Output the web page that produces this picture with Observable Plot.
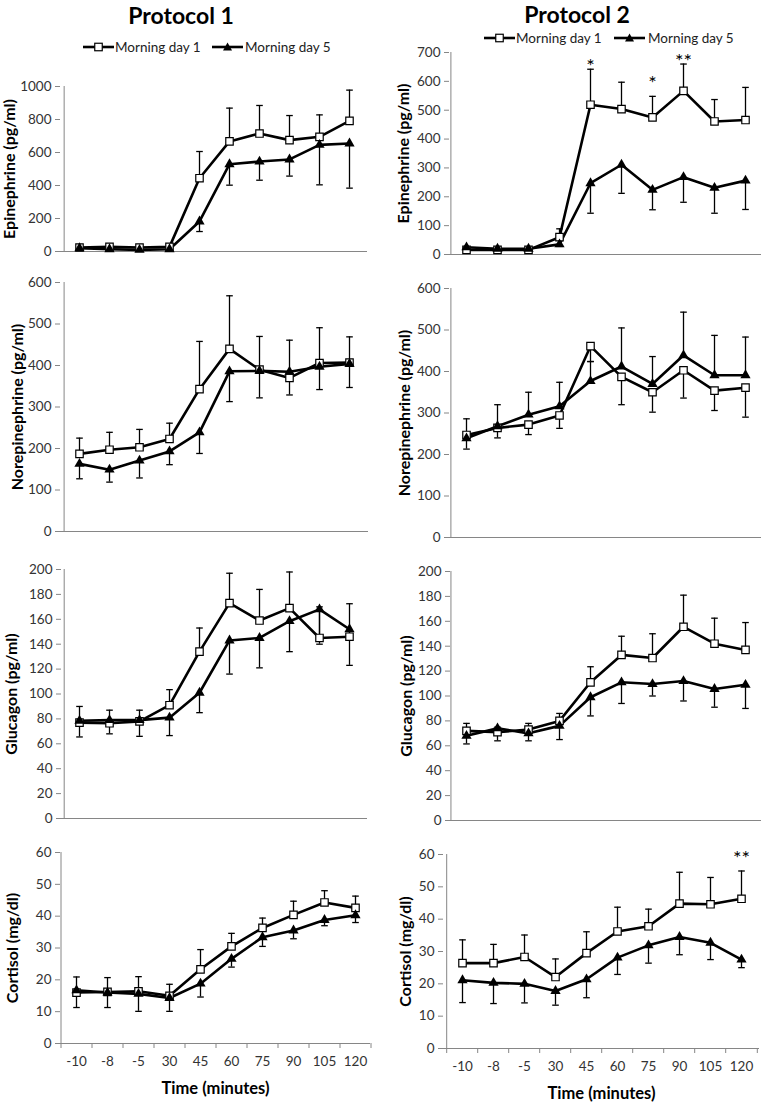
<!DOCTYPE html>
<html>
<head>
<meta charset="utf-8">
<script src="https://cdn.jsdelivr.net/npm/d3@7"></script>
<script src="https://cdn.jsdelivr.net/npm/@observablehq/plot@0.6"></script>
<style>
  body { margin: 0; background: #fff; }
  #root { position: relative; width: 762px; height: 1102px; font-family: Lato, "Open Sans", sans-serif; overflow: hidden; background: #fff; }
  .panel { position: absolute; }
  .title { position: absolute; font-weight: bold; font-size: 23px; line-height: 23px; transform: translateX(-50%); white-space: nowrap; color: #000; }
  .ltext { position: absolute; font-size: 13.5px; line-height: 14px; color: #222; white-space: nowrap; }
  .swatch { position: absolute; }
</style>
</head>
<body>
<div id="root"></div>
<script>
// ---------------- data ----------------
const times = ["-10", "-8", "-5", "30", "45", "60", "75", "90", "105", "120"];
const seriesNames = ["Morning day 1", "Morning day 5"];
const protocolTitles = ["Protocol 1", "Protocol 2"];
const xTitle = "Time (minutes)";

// Epinephrine, protocol 1
const epi1_d1 = [24, 28, 24, 28, 444, 667, 715, 675, 695, 792];
const epi1_d1_hi = [32, 36, 32, 36, 606, 869, 885, 824, 828, 978];
const epi1_d5 = [20, 14, 10, 14, 182, 529, 545, 558, 646, 655];
const epi1_d5_lo = [14, 8, 5, 8, 121, 402, 432, 457, 404, 384];
// Epinephrine, protocol 2
const epi2_d1 = [16, 16, 16, 60, 519, 504, 475, 567, 461, 466];
const epi2_d1_hi = [22, 22, 22, 89, 642, 597, 548, 660, 537, 579];
const epi2_d5 = [25, 20, 20, 35, 247, 311, 224, 268, 231, 256];
const epi2_d5_lo = [19, 14, 14, 28, 143, 212, 155, 181, 143, 156];
const epi2_stars = [{t: "45", v: 671, s: "*"}, {t: "75", v: 614, s: "*"}, {t: "90", v: 689, s: "**"}];
// Norepinephrine, protocol 1
const ne1_d1 = [187, 197, 203, 223, 343, 440, 390, 370, 406, 407];
const ne1_d1_hi = [225, 239, 246, 261, 458, 568, 470, 461, 491, 469];
const ne1_d5 = [163, 149, 171, 193, 239, 386, 387, 385, 397, 404];
const ne1_d5_lo = [127, 119, 129, 161, 188, 313, 322, 329, 342, 347];
// Norepinephrine, protocol 2 (day 1 bars go down, day 5 bars go up)
const ne2_d1 = [247, 264, 272, 294, 461, 387, 350, 403, 354, 361];
const ne2_d1_err = [213, 240, 248, 263, 424, 320, 302, 336, 306, 290];
const ne2_d5 = [239, 268, 296, 316, 377, 412, 370, 439, 391, 391];
const ne2_d5_err = [286, 320, 350, 374, 424, 505, 436, 543, 487, 483];
// Glucagon, protocol 1
const gl1_d1 = [77, 76.5, 78, 91, 134, 173, 159, 169, 145, 146];
const gl1_d1_hi = [90, 87, 87, 103.5, 153, 197, 184, 198, 170, 172.5];
const gl1_d5 = [78.5, 79, 79, 81, 101, 143, 145, 158.5, 168, 152];
const gl1_d5_lo = [65.5, 68, 66, 66.6, 85, 116, 121, 134, 140, 123];
// Glucagon, protocol 2
const gl2_d1 = [72, 71, 73, 80, 111, 133, 130.5, 155.6, 142, 137];
const gl2_d1_hi = [78, 75, 78, 86, 123.5, 148, 150, 181, 162.5, 159];
const gl2_d5 = [68, 74, 70, 76, 99, 111, 109.6, 112, 105.6, 109];
const gl2_d5_lo = [61.5, 64, 64, 65, 84, 94, 100, 96, 91, 90];
// Cortisol, protocol 1
const co1_d1 = [16, 16.2, 16.4, 15, 23.3, 30.5, 36.3, 40.4, 44.3, 42.6];
const co1_d1_hi = [20.9, 20.7, 21, 18.6, 29.5, 34.6, 39.4, 44.7, 48, 46.3];
const co1_d5 = [16.7, 16, 15.6, 14.3, 18.8, 26.6, 33.4, 35.5, 38.8, 40.3];
const co1_d5_lo = [11.3, 11.3, 10.1, 10.1, 14.6, 24, 30.5, 32.9, 37, 38];
// Cortisol, protocol 2
const co2_d1 = [26.4, 26.4, 28.3, 22.1, 29.5, 36.2, 37.8, 44.8, 44.6, 46.3];
const co2_d1_hi = [33.6, 32.2, 35.1, 27.7, 36.1, 43.7, 43.1, 54.5, 52.9, 54.9];
const co2_d5 = [21.1, 20.3, 20, 17.8, 21.4, 28.1, 31.9, 34.5, 32.7, 27.5];
const co2_d5_lo = [14.2, 13.9, 14.1, 13.4, 15.7, 22.9, 26.4, 29, 27.5, 25];
const co2_stars = [{t: "120", v: 60.5, s: "**"}];

// tick labels
const epi1Ticks = [0, 200, 400, 600, 800, 1000];
const epi2Ticks = [0, 100, 200, 300, 400, 500, 600, 700];
const neTicks = [0, 100, 200, 300, 400, 500, 600];
const glTicks = [0, 20, 40, 60, 80, 100, 120, 140, 160, 180, 200];
const coTicks = [0, 10, 20, 30, 40, 50, 60];

const yTitles = ["Epinephrine (pg/ml)", "Norepinephrine (pg/ml)", "Glucagon (pg/ml)", "Cortisol (mg/dl)"];

// ---------------- panels ----------------
const panels = [
  {d1: epi1_d1, e1: epi1_d1_hi, d5: epi1_d5, e5: epi1_d5_lo, ymax: 1000, ticks: epi1Ticks, ytitle: yTitles[0]},
  {d1: epi2_d1, e1: epi2_d1_hi, d5: epi2_d5, e5: epi2_d5_lo, ymax: 700, ticks: epi2Ticks, ytitle: yTitles[0], stars: epi2_stars},
  {d1: ne1_d1, e1: ne1_d1_hi, d5: ne1_d5, e5: ne1_d5_lo, ymax: 600, ticks: neTicks, ytitle: yTitles[1]},
  {d1: ne2_d1, e1: ne2_d1_err, d5: ne2_d5, e5: ne2_d5_err, ymax: 600, ticks: neTicks, ytitle: yTitles[1]},
  {d1: gl1_d1, e1: gl1_d1_hi, d5: gl1_d5, e5: gl1_d5_lo, ymax: 200, ticks: glTicks, ytitle: yTitles[2]},
  {d1: gl2_d1, e1: gl2_d1_hi, d5: gl2_d5, e5: gl2_d5_lo, ymax: 200, ticks: glTicks, ytitle: yTitles[2]},
  {d1: co1_d1, e1: co1_d1_hi, d5: co1_d5, e5: co1_d5_lo, ymax: 60, ticks: coTicks, ytitle: yTitles[3], xlab: true},
  {d1: co2_d1, e1: co2_d1_hi, d5: co2_d5, e5: co2_d5_lo, ymax: 60, ticks: coTicks, ytitle: yTitles[3], xlab: true, stars: co2_stars}
];

// layout (pixel geometry of each plot frame)
const layout = [
  {col: 0, top: 86, bottom: 251, x0: 60, x1: 367, tdx: -51},
  {col: 1, top: 52, bottom: 254, x0: 449, x1: 761, tdx: -46},
  {col: 0, top: 282, bottom: 531, x0: 60, x1: 368, tdx: -43},
  {col: 1, top: 288, bottom: 537, x0: 449, x1: 761, tdx: -45},
  {col: 0, top: 569, bottom: 818, x0: 61, x1: 367, tdx: -50},
  {col: 1, top: 571, bottom: 820, x0: 450, x1: 761, tdx: -44},
  {col: 0, top: 852, bottom: 1043, x0: 60, x1: 370, tdx: -48},
  {col: 1, top: 854, bottom: 1048, x0: 443, x1: 759, tdx: -38}
];

const root = document.getElementById("root");
const AXIS = "#868686";
const capSymbol = {draw(ctx) { ctx.moveTo(-3.3, 0); ctx.lineTo(3.3, 0); }};

panels.forEach((p, k) => {
  const L = layout[k];
  const svgLeft = L.col ? 381 : 0;
  const mt = 12;
  const mb = p.xlab ? 1102 - L.bottom : 8;
  const ml = L.x0 - svgLeft;
  const mr = svgLeft + 381 - L.x1;
  const fh = L.bottom - L.top;
  const step = (L.x1 - L.x0) / times.length;
  const rows = times.map((t, i) => ({t, d1: p.d1[i], e1: p.e1[i], d5: p.d5[i], e5: p.e5[i]}));

  const marks = [
    Plot.ruleY([0], {stroke: AXIS, strokeWidth: 1}),
    Plot.ruleX([times[0]], {dx: -step / 2, stroke: AXIS, strokeWidth: 1}),
    Plot.axisY({ticks: p.ticks, tickSize: 5, tickPadding: 4, tickFormat: d3.format("d"),
      stroke: AXIS, fill: "#333", fontSize: 13.5, label: null}),
    Plot.line(rows, {x: "t", y: "d1", stroke: "black", strokeWidth: 2.6}),
    Plot.line(rows, {x: "t", y: "d5", stroke: "black", strokeWidth: 2.6}),
    Plot.ruleX(rows, {x: "t", y1: "d1", y2: "e1", stroke: "black", strokeWidth: 1.3}),
    Plot.ruleX(rows, {x: "t", y1: "d5", y2: "e5", stroke: "black", strokeWidth: 1.3}),
    Plot.dot(rows, {x: "t", y: "e1", symbol: capSymbol, fill: "none", stroke: "black", strokeWidth: 1.3}),
    Plot.dot(rows, {x: "t", y: "e5", symbol: capSymbol, fill: "none", stroke: "black", strokeWidth: 1.3}),
    Plot.dot(rows, {x: "t", y: "d1", symbol: "square", r: 4.2, fill: "white", stroke: "black", strokeWidth: 1.2}),
    Plot.dot(rows, {x: "t", y: "d5", symbol: "triangle", r: 3.8, fill: "black", stroke: "none"}),
    Plot.text([p.ytitle], {frameAnchor: "left", rotate: -90, dx: L.tdx, fontWeight: "bold",
      fontSize: 16, fill: "black", textAnchor: "middle", lineAnchor: "middle"})
  ];
  if (p.xlab) {
    marks.push(
      Plot.axisX({tickSize: 0, tickPadding: 13, fontSize: 13.5, fill: "#333", label: null}),
      Plot.axisX({ticks: times, tickSize: 5, tickFormat: () => "", stroke: AXIS, dx: -step / 2, label: null}),
      Plot.axisX({ticks: [times[times.length - 1]], tickSize: 5, tickFormat: () => "", stroke: AXIS, dx: step / 2, label: null}),
      Plot.text([xTitle], {frameAnchor: "bottom", dy: 45, fontWeight: "bold", fontSize: 16.5, fill: "black", textAnchor: "middle", lineAnchor: "middle"})
    );
  }
  if (p.stars) {
    marks.push(Plot.text(p.stars, {x: "t", y: "v", text: "s", fontSize: 20, fill: "black", lineAnchor: "middle", dy: 6}));
  }
  const chart = Plot.plot({
    width: 381,
    height: mt + fh + mb,
    marginLeft: ml, marginRight: mr, marginTop: mt, marginBottom: mb,
    x: p.xlab ? {type: "point", domain: times, padding: 0.5} : {type: "point", domain: times, padding: 0.5, axis: null},
    y: {domain: [0, p.ymax]},
    style: {fontFamily: "Lato, 'Open Sans', sans-serif", background: "transparent", overflow: "visible"},
    marks
  });
  chart.classList.add("panel");
  chart.style.left = svgLeft + "px";
  chart.style.top = (L.top - mt) + "px";
  root.appendChild(chart);
});

// ---------------- titles ----------------
[[181, 4], [577, 3]].forEach(([cx, top], i) => {
  const d = document.createElement("div");
  d.className = "title";
  d.textContent = protocolTitles[i];
  d.style.left = cx + "px";
  d.style.top = top + "px";
  root.appendChild(d);
});

// ---------------- legends ----------------
function swatch(kind) {
  const ns = "http://www.w3.org/2000/svg";
  const s = document.createElementNS(ns, "svg");
  s.setAttribute("width", 32); s.setAttribute("height", 12);
  s.classList.add("swatch");
  const l = document.createElementNS(ns, "line");
  l.setAttribute("x1", 0); l.setAttribute("x2", 31); l.setAttribute("y1", 6); l.setAttribute("y2", 6);
  l.setAttribute("stroke", "black"); l.setAttribute("stroke-width", 2.6);
  s.appendChild(l);
  if (kind === 0) {
    const r = document.createElementNS(ns, "rect");
    r.setAttribute("x", 11.75); r.setAttribute("y", 2.25); r.setAttribute("width", 7.5); r.setAttribute("height", 7.5);
    r.setAttribute("fill", "white"); r.setAttribute("stroke", "black"); r.setAttribute("stroke-width", 1.2);
    s.appendChild(r);
  } else {
    const t = document.createElementNS(ns, "path");
    t.setAttribute("d", "M15.5,1.5 L20,9.5 L11,9.5 Z");
    t.setAttribute("fill", "black");
    s.appendChild(t);
  }
  return s;
}
const legendPos = [
  {y: 47, items: [[83, 115], [212, 245]]},
  {y: 38, items: [[484, 516], [614, 648]]}
];
legendPos.forEach(lg => {
  lg.items.forEach(([sx, tx], j) => {
    const s = swatch(j);
    s.style.left = sx + "px"; s.style.top = (lg.y - 6) + "px";
    root.appendChild(s);
    const t = document.createElement("div");
    t.className = "ltext";
    t.textContent = seriesNames[j];
    t.style.left = tx + "px"; t.style.top = (lg.y - 7) + "px";
    root.appendChild(t);
  });
});
</script>
</body>
</html>
